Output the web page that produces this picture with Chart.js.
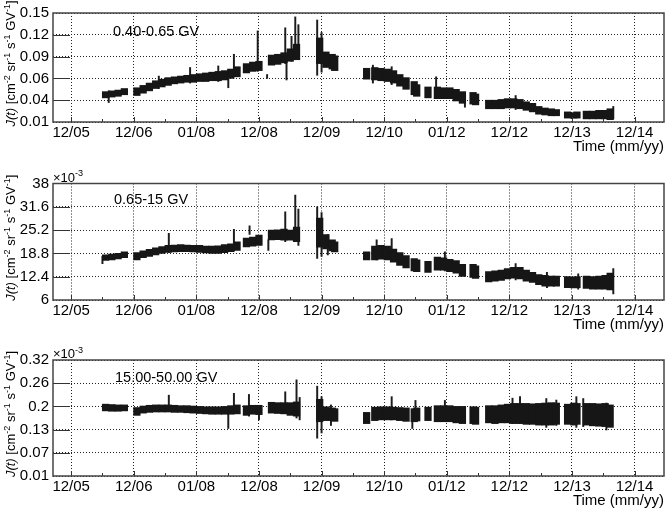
<!DOCTYPE html>
<html>
<head>
<meta charset="utf-8">
<script src="https://cdn.jsdelivr.net/npm/chart.js@4.4.1/dist/chart.umd.min.js"></script>
<style>
html, body { margin: 0; padding: 0; background: #fff; width: 666px; height: 510px; overflow: hidden; }
canvas { position: absolute; left: 0; }
</style>
</head>
<body>
<canvas id="c1" width="666" height="162" style="top:0px"></canvas>
<canvas id="c2" width="666" height="175" style="top:165px"></canvas>
<canvas id="c3" width="666" height="176" style="top:340px"></canvas>
<script>
// time axis: one unit per labelled tick (12/05 = 0)
const timeLabels = ['12/05', '12/06', '01/08', '12/08', '12/09', '12/10', '01/12', '12/12', '12/13', '12/14'];

const time = [0.55, 0.65, 0.75, 0.85,
  1.05, 1.15, 1.25, 1.35, 1.45, 1.55, 1.65, 1.75, 1.85, 1.95, 2.05, 2.15, 2.25, 2.35, 2.45, 2.55, 2.65,
  2.8, 2.9, 3.0,
  3.2, 3.3, 3.4, 3.5, 3.6,
  3.97, 4.07, 4.17, 4.21,
  4.72,
  4.85, 4.95, 5.05, 5.15, 5.25, 5.35,
  5.48, 5.52,
  5.7,
  5.85, 5.95, 6.05, 6.15, 6.25,
  6.42, 6.46,
  6.67, 6.77, 6.87, 6.97, 7.07, 7.17, 7.27, 7.37, 7.47, 7.57, 7.67, 7.75,
  7.93, 8.03, 8.08,
  8.23, 8.33, 8.43, 8.53, 8.61];

// 0.40-0.65 GV
const low1 = [0.041, 0.042, 0.043, 0.045,
  0.044, 0.047, 0.050, 0.053, 0.055, 0.057, 0.059, 0.060, 0.061, 0.061, 0.062, 0.062, 0.063, 0.063, 0.064, 0.066, 0.068,
  0.073, 0.075, 0.076,
  0.083, 0.084, 0.086, 0.088, 0.090,
  0.085, 0.080, 0.078, 0.076,
  0.065,
  0.064, 0.063, 0.062, 0.060, 0.056, 0.052,
  0.045, 0.043,
  0.041,
  0.040, 0.040, 0.040, 0.037, 0.034,
  0.033, 0.032,
  0.027, 0.027, 0.027, 0.028, 0.028, 0.027, 0.025, 0.023, 0.020, 0.019, 0.018, 0.018,
  0.015, 0.015, 0.015,
  0.014, 0.014, 0.014, 0.014, 0.013];
const high1 = [0.049, 0.050, 0.051, 0.053,
  0.054, 0.057, 0.060, 0.063, 0.065, 0.067, 0.068, 0.069, 0.070, 0.071, 0.072, 0.073, 0.074, 0.075, 0.076, 0.078, 0.081,
  0.085, 0.087, 0.088,
  0.096, 0.097, 0.099, 0.104, 0.110,
  0.118, 0.100, 0.097, 0.095,
  0.079,
  0.080, 0.079, 0.078, 0.076, 0.071, 0.067,
  0.062, 0.058,
  0.055,
  0.055, 0.054, 0.054, 0.052, 0.049,
  0.048, 0.046,
  0.038, 0.038, 0.039, 0.040, 0.040, 0.039, 0.036, 0.034, 0.030, 0.028, 0.027, 0.026,
  0.023, 0.022, 0.023,
  0.024, 0.024, 0.025, 0.025, 0.027];
const spikeTime1 = [0.6, 1.4, 1.9, 2.35, 2.51, 2.6, 2.98, 3.13, 3.42, 3.44, 3.52, 3.58, 3.63, 3.93, 4.0, 4.82, 5.12, 5.83, 6.29, 7.1, 8.66];
const spikeLow1 = [0.035, 0.053, 0.060, 0.062, 0.054, 0.070, 0.075, 0.066, 0.085, 0.064, 0.088, 0.090, 0.092, 0.070, 0.074, 0.060, 0.058, 0.045, 0.029, 0.026, 0.014];
const spikeHigh1 = [0.050, 0.069, 0.080, 0.082, 0.070, 0.097, 0.127, 0.071, 0.131, 0.095, 0.120, 0.145, 0.135, 0.141, 0.125, 0.083, 0.081, 0.068, 0.045, 0.044, 0.030];

// 0.65-15 GV (x10^-3)
const low2 = [16.9, 17.0, 17.3, 17.6,
  17.0, 17.6, 18.0, 18.4, 18.8, 19.1, 19.2, 19.3, 19.3, 19.2, 19.1, 18.9, 18.8, 18.8, 19.0, 19.3, 19.6,
  20.6, 20.8, 21.0,
  22.5, 22.6, 22.4, 22.4, 22.0,
  20.5, 20.0, 19.5, 19.2,
  17.0,
  17.0, 17.2, 17.0, 16.4, 15.5, 14.8,
  14.0, 13.8,
  13.6,
  14.2, 14.2, 13.8, 13.4, 12.5,
  12.2, 11.9,
  11.0, 11.2, 11.4, 11.8, 12.0, 11.8, 11.2, 10.8, 10.2, 9.8, 9.8, 9.8,
  9.4, 9.3, 9.4,
  9.2, 9.0, 9.0, 9.0, 8.8];
const high2 = [18.4, 18.6, 18.8, 19.2,
  19.0, 19.5, 19.9, 20.3, 20.7, 21.0, 21.1, 21.2, 21.1, 21.0, 21.0, 20.8, 20.8, 20.9, 21.2, 21.4, 22.0,
  23.0, 23.3, 23.8,
  25.2, 25.3, 25.5, 25.2, 26.0,
  28.5, 24.0, 22.5, 22.0,
  19.2,
  20.8, 21.0, 20.8, 20.0, 19.0, 18.2,
  17.4, 17.0,
  16.6,
  17.8, 17.6, 17.2, 16.8, 15.8,
  15.8, 15.4,
  13.8, 14.0, 14.2, 14.6, 15.0, 15.0, 14.2, 13.6, 13.0, 12.8, 12.6, 12.6,
  12.4, 12.2, 12.4,
  12.6, 12.4, 12.6, 12.8, 13.4];
const spikeTime2 = [0.5, 1.56, 2.6, 2.85, 3.15, 3.42, 3.58, 3.63, 3.93, 4.0, 4.1, 4.88, 5.12, 5.97, 7.1, 7.6, 8.1, 8.66];
const spikeLow2 = [16.0, 19.0, 19.5, 24.0, 19.6, 22.0, 22.0, 21.0, 17.4, 18.0, 18.4, 17.0, 17.0, 14.0, 11.5, 9.4, 9.0, 7.7];
const spikeHigh2 = [18.0, 24.3, 25.4, 26.4, 22.5, 30.2, 34.8, 31.0, 31.6, 30.0, 24.0, 22.5, 22.9, 19.2, 16.0, 13.6, 13.2, 14.6];

// 15.00-50.00 GV (x10^-3)
const low3 = [0.184, 0.183, 0.183, 0.184,
  0.172, 0.178, 0.180, 0.181, 0.181, 0.181, 0.180, 0.180, 0.179, 0.178, 0.177, 0.176, 0.175, 0.175, 0.175, 0.175, 0.176,
  0.172, 0.175, 0.174,
  0.178, 0.177, 0.176, 0.172, 0.170,
  0.155, 0.158, 0.158, 0.156,
  0.150,
  0.158, 0.160, 0.160, 0.160, 0.158, 0.156,
  0.155, 0.157,
  0.158,
  0.155, 0.155, 0.155, 0.152, 0.150,
  0.150, 0.148,
  0.152, 0.150, 0.152, 0.152, 0.150, 0.150, 0.148, 0.148, 0.146, 0.146, 0.146, 0.148,
  0.148, 0.146, 0.148,
  0.146, 0.144, 0.143, 0.142, 0.140];
const high3 = [0.202, 0.201, 0.200, 0.200,
  0.193, 0.197, 0.199, 0.200, 0.200, 0.200, 0.199, 0.198, 0.198, 0.197, 0.196, 0.195, 0.195, 0.195, 0.196, 0.198, 0.200,
  0.198, 0.199, 0.199,
  0.207, 0.206, 0.206, 0.206, 0.208,
  0.215, 0.195, 0.192, 0.190,
  0.180,
  0.194, 0.195, 0.195, 0.194, 0.193, 0.192,
  0.190, 0.192,
  0.194,
  0.198, 0.198, 0.198, 0.196, 0.196,
  0.195, 0.194,
  0.198, 0.198, 0.200, 0.202, 0.204, 0.204, 0.204, 0.203, 0.204, 0.205, 0.206, 0.205,
  0.202, 0.205, 0.204,
  0.204, 0.204, 0.203, 0.204, 0.200];
const spikeTime3 = [1.56, 2.51, 2.6, 2.84, 3.0, 3.42, 3.6, 3.65, 3.93, 4.0, 4.15, 5.12, 5.45, 5.5, 5.97, 7.05, 7.17, 7.59, 7.75, 8.07, 8.18, 8.55];
const spikeLow3 = [0.190, 0.137, 0.180, 0.170, 0.160, 0.180, 0.165, 0.160, 0.111, 0.125, 0.145, 0.160, 0.137, 0.160, 0.160, 0.150, 0.150, 0.140, 0.145, 0.140, 0.142, 0.133];
const spikeHigh3 = [0.226, 0.180, 0.231, 0.228, 0.190, 0.235, 0.267, 0.220, 0.250, 0.222, 0.200, 0.222, 0.180, 0.212, 0.212, 0.218, 0.222, 0.217, 0.213, 0.222, 0.217, 0.205];

const yTicks1 = [0.01, 0.038, 0.066, 0.094, 0.122, 0.15];
const yLabels1 = ['0.01', '0.04', '0.06', '0.09', '0.12', '0.15'];
const yTicks2 = [6, 12.4, 18.8, 25.2, 31.6, 38];
const yLabels2 = ['6', '12.4', '18.8', '25.2', '31.6', '38'];
const yTicks3 = [0.01, 0.072, 0.134, 0.196, 0.258, 0.32];
const yLabels3 = ['0.01', '0.07', '0.13', '0.2', '0.26', '0.32'];

const FONT = '"Liberation Sans", Arial, sans-serif';
Chart.defaults.font.family = FONT;
Chart.defaults.color = '#000';

// rich text: [text, style] with style '', 'italic' or 'sup'
function richWidth(ctx, parts, size) {
  let w = 0;
  parts.forEach(([t, s]) => {
    ctx.font = (s === 'italic' ? 'italic ' : '') + (s === 'sup' ? size * 0.7 : size) + 'px ' + FONT;
    w += ctx.measureText(t).width;
  });
  return w;
}
function richDraw(ctx, parts, size, x, y) {
  parts.forEach(([t, s]) => {
    ctx.font = (s === 'italic' ? 'italic ' : '') + (s === 'sup' ? size * 0.7 : size) + 'px ' + FONT;
    ctx.fillText(t, x, s === 'sup' ? y - size * 0.42 : y);
    x += ctx.measureText(t).width;
  });
}

const yTitle = [['J(t)', 'italic'], [' [cm', ''], ['-2', 'sup'], [' sr', ''], ['-1', 'sup'], [' s', ''], ['-1', 'sup'], [' GV', ''], ['-1', 'sup'], [']', '']];

const decor = {
  id: 'decor',
  afterDraw(chart, args, o) {
    const {ctx, chartArea: a, scales: {x, y}} = chart;
    ctx.save();
    ctx.strokeStyle = '#333';
    ctx.lineWidth = 1;
    const line = (x1, y1, x2, y2) => { ctx.beginPath(); ctx.moveTo(x1, y1); ctx.lineTo(x2, y2); ctx.stroke(); };
    // ticks drawn inside the frame
    o.yTicks.forEach((v, i) => {
      if (i === 0 || i === o.yTicks.length - 1) return;
      const py = Math.round(y.getPixelForValue(v)) + 0.5;
      line(a.left, py, a.left + 17, py);
    });
    timeLabels.forEach((_, k) => {
      const px = Math.round(x.getPixelForValue(k)) + 0.5;
      line(px, a.bottom, px, a.bottom - 5);
      const pm = Math.round(x.getPixelForValue(k + 0.5)) + 0.5;
      if (pm < a.right) line(pm, a.bottom, pm, a.bottom - 3);
    });
    ctx.lineWidth = 1.5;
    ctx.strokeStyle = '#444';
    ctx.strokeRect(a.left, a.top, a.right - a.left, a.bottom - a.top);

    ctx.fillStyle = '#000';
    ctx.textBaseline = 'middle';
    ctx.font = '14.5px ' + FONT;
    ctx.fillText(o.label, o.labelX, a.top + o.labelDy);

    ctx.textAlign = 'right';
    ctx.font = '15px ' + FONT;
    ctx.fillText('Time (mm/yy)', a.right, a.bottom + 24.5);

    ctx.textAlign = 'left';
    ctx.textBaseline = 'alphabetic';
    if (o.exponent) {
      richDraw(ctx, [['\u00d710', ''], ['-3', 'sup']], 13, a.left, a.top - 2);
    }
    // rotated y title
    const size = 13;
    const w = richWidth(ctx, yTitle, size);
    ctx.translate(15, (a.top + a.bottom) / 2 - 4);
    ctx.rotate(-Math.PI / 2);
    richDraw(ctx, yTitle, size, -w / 2, 0);
    ctx.restore();
  }
};

function makePanel(id, padTop, lo, hi, sT, sLo, sHi, yTicks, yLabels, extra) {
  new Chart(document.getElementById(id), {
    type: 'bar',
    data: {
      datasets: [{
        data: time.map((t, i) => ({x: t, y: [lo[i], hi[i]]})),
        backgroundColor: '#161616',
        borderWidth: 0,
        barThickness: 6.6,
        grouped: false
      }, {
        data: sT.map((t, i) => ({x: t, y: [sLo[i], sHi[i]]})),
        backgroundColor: '#1c1c1c',
        borderWidth: 0,
        barThickness: 1.3,
        grouped: false
      }]
    },
    options: {
      responsive: false,
      animation: false,
      layout: {padding: {top: padTop, right: 2, left: 0, bottom: 0}},
      plugins: {
        legend: {display: false},
        tooltip: {enabled: false},
        decor: Object.assign({yTicks: yTicks}, extra)
      },
      scales: {
        x: {
          type: 'linear',
          min: -0.29,
          max: 9.47,
          offset: false,
          grid: {color: '#222', lineWidth: 1, drawTicks: false, offset: false},
          border: {display: false, dash: [1, 2]},
          ticks: {padding: 2, autoSkip: false, maxRotation: 0, font: {size: 15}, callback: (v, i) => timeLabels[i]},
          afterBuildTicks: s => { s.ticks = timeLabels.map((_, k) => ({value: k})); },
          afterFit: s => { s.height = 40; }
        },
        y: {
          min: yTicks[0],
          max: yTicks[yTicks.length - 1],
          grid: {color: '#222', lineWidth: 1, drawTicks: false},
          border: {display: false, dash: [1, 2]},
          ticks: {padding: 4, autoSkip: false, font: {size: 15}, callback: (v, i) => yLabels[i]},
          afterBuildTicks: s => { s.ticks = yTicks.map(v => ({value: v})); },
          afterFit: s => { s.width = 53; }
        }
      }
    },
    plugins: [decor]
  });
}

makePanel('c1', 6, low1, high1, spikeTime1, spikeLow1, spikeHigh1, yTicks1, yLabels1,
  {label: '0.40-0.65 GV', labelX: 113, labelDy: 19});
makePanel('c2', 18.5, low2, high2, spikeTime2, spikeLow2, spikeHigh2, yTicks2, yLabels2,
  {label: '0.65-15 GV', labelX: 114, labelDy: 16.5, exponent: true});
makePanel('c3', 20, low3, high3, spikeTime3, spikeLow3, spikeHigh3, yTicks3, yLabels3,
  {label: '15.00-50.00 GV', labelX: 115, labelDy: 18, exponent: true});
</script>
</body>
</html>
